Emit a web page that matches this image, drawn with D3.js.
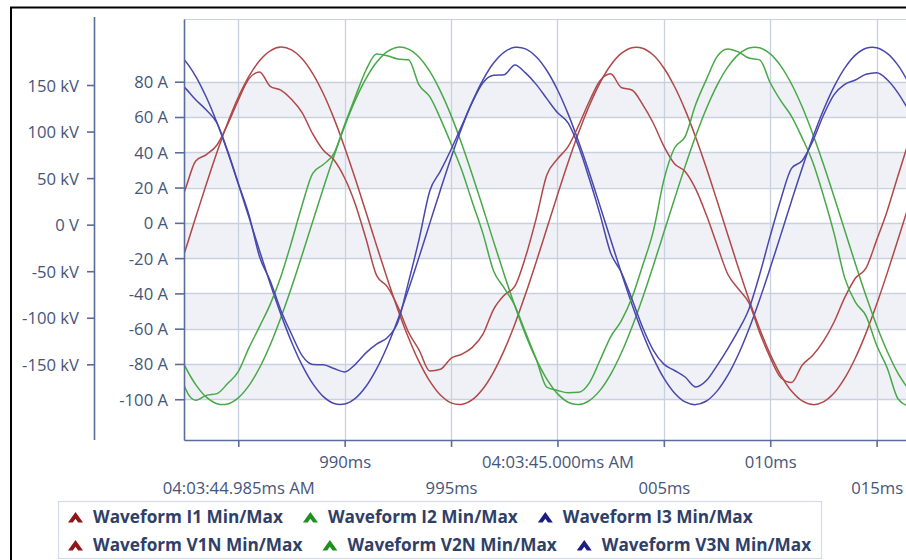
<!DOCTYPE html>
<html><head><meta charset="utf-8">
<script src="https://cdn.jsdelivr.net/npm/d3@7"></script>
<style>
body{margin:0;background:#fff;}
svg{display:block;font-family:"Open Sans","Noto Sans",sans-serif;}
</style>
</head><body>
<svg id="c" width="906" height="560"></svg>
<script>
// ---- DATA (time offsets in ms after 04:03:44.000) ----
const timesMs = [982.0,982.5,983.0,983.5,984.0,984.5,985.0,985.5,986.0,986.5,
987.0,987.5,988.0,988.5,989.0,989.5,990.0,990.5,991.0,991.5,
992.0,992.5,993.0,993.5,994.0,994.5,995.0,995.5,996.0,996.5,
997.0,997.5,998.0,998.5,999.0,999.5,1000.0,1000.5,1001.0,1001.5,
1002.0,1002.5,1003.0,1003.5,1004.0,1004.5,1005.0,1005.5,1006.0,1006.5,
1007.0,1007.5,1008.0,1008.5,1009.0,1009.5,1010.0,1010.5,1011.0,1011.5,
1012.0,1012.5,1013.0,1013.5,1014.0,1014.5,1015.0,1015.5,1016.0,1016.5];

// currents (A)
const waveI1 = [2.7,18.7,35.0,38.7,44.1,55.8,69.6,81.6,85.5,77.4,
75.2,70.1,62.5,50.4,41.1,35.6,25.4,10.6,-8.9,-29.8,
-36.2,-47.5,-62.0,-72.1,-84.0,-83.0,-76.8,-74.5,-70.6,-63.1,
-49.0,-41.0,-35.9,-19.3,2.4,27.1,36.2,43.2,55.3,68.9,
80.5,84.5,76.7,75.3,67.2,56.6,43.5,33.5,29.1,19.1,
4.4,-12.5,-29.0,-37.4,-45.4,-62.1,-76.4,-87.8,-90.5,-80.7,
-75.1,-67.1,-56.2,-42.4,-31.4,-25.7,-9.8,6.9,26.6,45.8];
const waveI2 = [-70.0,-93.5,-100.6,-97.8,-96.8,-91.1,-84.4,-70.9,-58.8,-46.2,
-30.5,-11.0,10.0,28.1,33.1,39.4,55.7,71.4,86.5,95.7,
94.7,92.9,92.4,78.0,71.5,59.1,44.9,29.9,11.7,-6.1,
-27.3,-37.0,-47.0,-62.1,-77.2,-93.1,-95.0,-96.3,-96.1,-90.7,
-77.9,-64.6,-55.6,-42.5,-24.3,-5.0,24.2,42.4,48.9,67.2,
81.3,94.2,98.6,96.9,93.4,92.4,79.4,69.1,60.4,48.2,
34.4,15.4,-6.0,-31.2,-45.0,-52.7,-69.4,-82.4,-99.7,-104.0];
const waveI3 = [82.0,76.5,69.8,63.9,56.6,40.8,22.5,4.6,-19.2,-32.8,
-49.5,-63.0,-75.3,-80.3,-80.5,-82.6,-84.5,-80.2,-73.7,-68.7,
-65.1,-56.3,-33.6,-9.2,18.1,29.3,41.6,55.0,68.4,79.4,
83.6,84.0,89.5,85.0,78.5,70.4,62.5,56.7,43.1,24.8,
4.8,-17.1,-28.0,-43.2,-59.2,-72.1,-80.1,-83.7,-87.4,-93.0,
-89.4,-80.9,-71.4,-61.0,-48.8,-29.4,-7.4,13.4,30.9,35.2,
46.3,61.0,72.7,78.5,81.0,84.2,85.1,81.1,73.7,63.9];

// voltages (kV)
const waveV1N = [-63.4,-28.2,7.9,43.6,77.8,109.2,136.7,159.2,176.1,186.7,
190.7,187.8,178.3,162.3,140.6,113.9,83.0,49.2,13.6,-22.5,
-57.9,-91.3,-121.4,-147.4,-168.1,-183.0,-191.4,-193.1,-188.0,-176.2,
-158.3,-134.8,-106.6,-74.6,-40.1,-4.2,31.8,66.7,99.2,128.0,
152.4,171.2,183.9,190.1,189.5,182.2,168.3,148.4,123.3,93.7,
60.8,25.6,-10.5,-46.2,-80.4,-111.8,-139.3,-161.8,-178.7,-189.3,
-193.3,-190.4,-180.9,-164.9,-143.2,-116.5,-85.6,-51.8,-16.2,19.9];
const waveV2N = [-127.4,-152.3,-171.8,-185.3,-192.3,-192.6,-186.0,-172.9,-153.7,-129.2,
-100.0,-67.5,-32.5,3.5,39.4,73.8,105.7,133.6,156.8,174.4,
185.8,190.6,188.5,179.8,164.6,143.5,117.4,86.9,53.4,18.0,
-18.2,-53.7,-87.4,-118.1,-144.5,-165.9,-181.5,-190.7,-193.2,-188.9,
-178.0,-160.8,-137.9,-110.2,-78.7,-44.4,-8.5,27.5,62.6,95.4,
124.8,149.7,169.2,182.7,189.7,190.0,183.4,170.3,151.1,126.6,
97.4,64.9,29.9,-6.1,-42.0,-76.4,-108.3,-136.2,-159.4,-177.0];
const waveV3N = [186.8,176.2,159.4,136.8,109.4,78.0,43.8,8.1,-28.0,-63.2,
-96.1,-125.7,-150.9,-170.8,-184.7,-192.1,-192.7,-186.6,-173.9,-155.0,
-130.8,-101.9,-69.5,-34.6,1.4,37.3,71.9,103.8,132.1,155.6,
173.6,185.3,190.5,188.8,180.4,165.6,144.9,119.0,88.8,55.5,
20.1,-16.0,-51.6,-85.5,-116.3,-143.1,-164.9,-180.8,-190.4,-193.3,
-189.4,-178.8,-162.0,-139.4,-112.0,-80.6,-46.4,-10.7,25.4,60.6,
93.5,123.1,148.3,168.2,182.1,189.5,190.1,184.0,171.3,152.4];

const ampTicks = [80,60,40,20,0,-20,-40,-60,-80,-100];
const ampTickLabels = ["80 A","60 A","40 A","20 A","0 A","-20 A","-40 A","-60 A","-80 A","-100 A"];
const kvTicks = [150,100,50,0,-50,-100,-150];
const kvTickLabels = ["150 kV","100 kV","50 kV","0 V","-50 kV","-100 kV","-150 kV"];
const timeTicks = [985,990,995,1000,1005,1010,1015];
const timeTickLabels = ["04:03:44.985ms AM","990ms","995ms","04:03:45.000ms AM","005ms","010ms","015ms"];
const legendNames = ["Waveform I1 Min/Max","Waveform I2 Min/Max","Waveform I3 Min/Max",
                     "Waveform V1N Min/Max","Waveform V2N Min/Max","Waveform V3N Min/Max"];

// ---- STYLE ----
const lineColors = {r:"#b04848", g:"#48a848", b:"#4848ac"};
const markerColors = {r:"#8e1616", g:"#1f8f1f", b:"#1c1c82"};
const axisColor = "#5a6d9a", gridColor = "#c9d1e0", bandColor = "#eff1f6";
const labelColor = "#46557a", legendColor = "#2f4068";

const svg = d3.select("#c");
const L = 184, T = 19, B = 440, R = 906;
const x = d3.scaleLinear().domain([982.45, 1016.38]).range([L, R]);
const yA = d3.scaleLinear().domain([-123.1, 115.55]).range([B, T]);
const yV = d3.scaleLinear().domain([-231.3, 220.9]).range([B, T]);

svg.append("rect").attr("width",906).attr("height",560).attr("fill","#fff");

function fitSize(str, target, weight){
  const t = svg.append("text").attr("font-size",16).attr("font-weight",weight).text(str);
  const w = t.node().getComputedTextLength(); t.remove();
  return 16*target/w;
}
const axisFont = fitSize("04:03:44.985ms AM", 152, 400);
const legendFont = fitSize("Waveform I1 Min/Max", 190, 700);

// frame
svg.append("line").attr("x1",11).attr("x2",11).attr("y1",7).attr("y2",560).attr("stroke","#000").attr("stroke-width",2);
svg.append("line").attr("x1",10).attr("x2",906).attr("y1",7.5).attr("y2",7.5).attr("stroke","#000").attr("stroke-width",2);

// bands
const asc = ampTicks.slice().sort((a,b)=>a-b);
for(let i=0;i<asc.length-1;i+=2){
  svg.append("rect").attr("x",L).attr("width",R-L)
    .attr("y",yA(asc[i+1])).attr("height",yA(asc[i])-yA(asc[i+1])).attr("fill",bandColor);
}
// grid
svg.append("g").selectAll("line").data(ampTicks).join("line")
  .attr("x1",L).attr("x2",R).attr("y1",d=>Math.round(yA(d))+0.5).attr("y2",d=>Math.round(yA(d))+0.5)
  .attr("stroke",gridColor).attr("stroke-width",1.3);
svg.append("g").selectAll("line").data(timeTicks).join("line")
  .attr("y1",T).attr("y2",B).attr("x1",d=>Math.round(x(d))+0.5).attr("x2",d=>Math.round(x(d))+0.5)
  .attr("stroke",gridColor).attr("stroke-width",1.3);
svg.append("line").attr("x1",L).attr("x2",R).attr("y1",T+0.5).attr("y2",T+0.5).attr("stroke",gridColor);

// lines
svg.append("clipPath").attr("id","clip").append("rect").attr("x",L+1).attr("y",T).attr("width",R-L).attr("height",B-T);
const gl = svg.append("g").attr("clip-path","url(#clip)");
const series = [
  {v:waveV1N, s:yV, c:lineColors.r, curve:d3.curveCatmullRom},
  {v:waveV2N, s:yV, c:lineColors.g, curve:d3.curveCatmullRom},
  {v:waveV3N, s:yV, c:lineColors.b, curve:d3.curveCatmullRom},
  {v:waveI1, s:yA, c:lineColors.r, curve:d3.curveMonotoneX},
  {v:waveI2, s:yA, c:lineColors.g, curve:d3.curveMonotoneX},
  {v:waveI3, s:yA, c:lineColors.b, curve:d3.curveMonotoneX}
];
series.forEach(se=>{
  const line = d3.line().x((d,i)=>x(timesMs[i])).y(d=>se.s(d)).curve(se.curve);
  gl.append("path").attr("d",line(se.v)).attr("fill","none").attr("stroke",se.c)
    .attr("stroke-width",1.5).attr("stroke-linejoin","round");
});

// axes
function styleAxis(g){
  g.selectAll(".domain").attr("stroke",axisColor).attr("stroke-width",1.6);
  g.selectAll(".tick line").attr("stroke",axisColor).attr("stroke-width",1.6);
  g.selectAll(".tick text").attr("fill",labelColor).attr("font-size",axisFont)
    .attr("font-family",'"Open Sans","Noto Sans",sans-serif');
}
const gA = svg.append("g").attr("transform",`translate(${L},0)`)
  .call(d3.axisLeft(yA).tickValues(ampTicks).tickFormat(d=>ampTickLabels[ampTicks.indexOf(d)])
    .tickSize(9).tickSizeOuter(0).tickPadding(7));
styleAxis(gA);
gA.selectAll(".tick text").attr("dy","0.36em");

const gV = svg.append("g").attr("transform","translate(94,0)")
  .call(d3.axisLeft(yV).tickValues(kvTicks).tickFormat(d=>kvTickLabels[kvTicks.indexOf(d)])
    .tickSize(7).tickSizeOuter(0).tickPadding(8));
styleAxis(gV);
gV.selectAll(".tick text").attr("dy","0.36em");
gV.select(".domain").attr("d",`M0.5,17V${B}`);

const gX = svg.append("g").attr("transform",`translate(0,${B})`)
  .call(d3.axisBottom(x).tickValues(timeTicks).tickFormat(d=>timeTickLabels[timeTicks.indexOf(d)])
    .tickSize(7).tickSizeOuter(0));
styleAxis(gX);
gX.selectAll(".tick text").attr("dy",0).attr("y",(d)=> timeTicks.indexOf(d)%2===1 ? 28 : 54);

// legend
svg.append("rect").attr("x",58.5).attr("y",501.5).attr("width",763).attr("height",57)
  .attr("fill","#fff").attr("stroke","#d5dbe8").attr("stroke-width",1.2);
const legendMarker = ["r","g","b","r","g","b"];
const rowsY = [523, 551];
[0,1].forEach(row=>{
  let cx = 68;
  for(let j=0;j<3;j++){
    const idx = row*3+j;
    svg.append("path").attr("transform",`translate(${cx},${rowsY[row]-11})`)
      .attr("d","M0,10.5 L7.5,0 L15,10.5 L10.2,10.5 L7.5,6.7 L4.8,10.5 Z").attr("fill",markerColors[legendMarker[idx]]);
    const t = svg.append("text").attr("x",cx+25).attr("y",rowsY[row]).attr("font-size",legendFont)
      .attr("font-weight",700).attr("fill",legendColor).text(legendNames[idx]);
    cx = cx + 25 + t.node().getComputedTextLength() + 20;
  }
});
</script>
</body></html>
